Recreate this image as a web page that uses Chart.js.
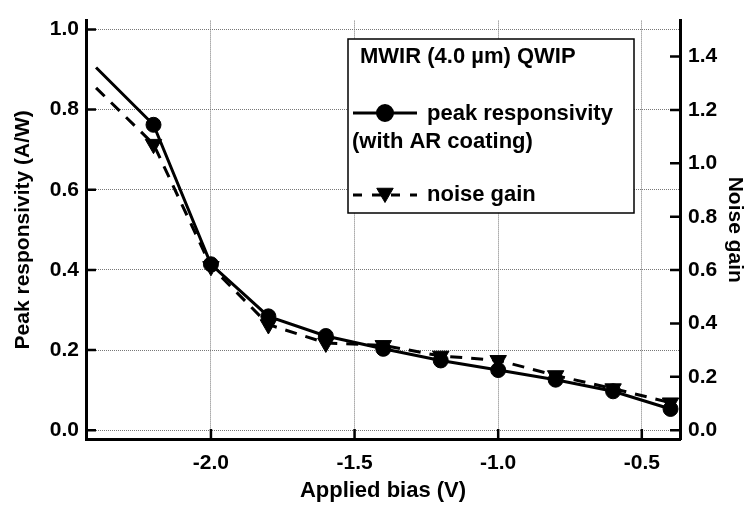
<!DOCTYPE html>
<html><head><meta charset="utf-8">
<script src="https://cdn.jsdelivr.net/npm/chart.js@4/dist/chart.umd.min.js"></script>
<style>html,body{margin:0;padding:0;background:#fff;} canvas{display:block;}</style>
</head><body>
<canvas id="c" width="750" height="505"></canvas>
<script>
// ---- data ----
const bias = [-2.4, -2.2, -2.0, -1.8, -1.6, -1.4, -1.2, -1.0, -0.8, -0.6, -0.4];
const responsivity = [0.905, 0.762, 0.414, 0.284, 0.235, 0.203, 0.174, 0.150, 0.126, 0.097, 0.053];
const noiseGain = [1.283, 1.072, 0.614, 0.396, 0.327, 0.318, 0.278, 0.262, 0.205, 0.156, 0.103];
const xTicks = [-2.0, -1.5, -1.0, -0.5];
const leftTicks = [0.0, 0.2, 0.4, 0.6, 0.8, 1.0];
const rightTicks = [0.0, 0.2, 0.4, 0.6, 0.8, 1.0, 1.2, 1.4];
const legendTitle = 'MWIR (4.0 µm) QWIP';
const seriesNames = ['peak responsivity', 'noise gain'];
const seriesNote = '(with AR coating)';
const xTitle = 'Applied bias (V)';
const yTitle = 'Peak responsivity (A/W)';
const y2Title = 'Noise gain';

const FONT = "'Liberation Sans', Arial, Helvetica, sans-serif";
Chart.defaults.font.family = FONT;
Chart.defaults.color = '#000';

const tickMarks = {
  id: 'tickMarks',
  afterDraw(chart) {
    const ctx = chart.ctx, a = chart.chartArea;
    const {x, y, y2} = chart.scales;
    ctx.save();
    ctx.strokeStyle = '#000';
    ctx.lineWidth = 2.5;
    ctx.beginPath();
    x.ticks.forEach(t => { const p = x.getPixelForValue(t.value); ctx.moveTo(p, a.bottom); ctx.lineTo(p, a.bottom - 10); });
    y.ticks.forEach(t => { const p = y.getPixelForValue(t.value); ctx.moveTo(a.left, p); ctx.lineTo(a.left + 10, p); });
    y2.ticks.forEach(t => { const p = y2.getPixelForValue(t.value); ctx.moveTo(a.right, p); ctx.lineTo(a.right - 10, p); });
    ctx.stroke();
    ctx.restore();
  }
};

const boxLegend = {
  id: 'boxLegend',
  afterDraw(chart) {
    const ctx = chart.ctx;
    ctx.save();
    ctx.fillStyle = '#fff';
    ctx.fillRect(348, 39, 286, 174);
    ctx.strokeStyle = '#000';
    ctx.lineWidth = 1.5;
    ctx.strokeRect(348, 39, 286, 174);
    ctx.fillStyle = '#000';
    ctx.font = 'bold 22px ' + FONT;
    ctx.textBaseline = 'alphabetic';
    ctx.textAlign = 'left';
    ctx.fillText(legendTitle, 360, 63);
    ctx.fillText(seriesNames[0], 427, 120);
    ctx.fillText(seriesNote, 352, 148);
    ctx.fillText(seriesNames[1], 427, 201);
    // solid sample
    ctx.lineWidth = 3;
    ctx.beginPath(); ctx.moveTo(353, 113); ctx.lineTo(417, 113); ctx.stroke();
    Chart.helpers.drawPoint(ctx, {pointStyle: 'circle', radius: 7.5, borderWidth: 1, rotation: 0}, 385, 113);
    // dashed sample
    ctx.setLineDash([9, 10]);
    ctx.beginPath(); ctx.moveTo(353, 195); ctx.lineTo(417, 195); ctx.stroke();
    ctx.setLineDash([]);
    ctx.lineWidth = 1;
    Chart.helpers.drawPoint(ctx, {pointStyle: 'triangle', radius: 9.5, borderWidth: 1, rotation: 180}, 385, 193);
    ctx.restore();
  }
};

new Chart(document.getElementById('c'), {
  type: 'line',
  data: {
    datasets: [
      {
        label: seriesNames[0],
        data: bias.map((b, i) => ({x: b, y: responsivity[i]})),
        yAxisID: 'y',
        borderColor: '#000', backgroundColor: '#000',
        borderWidth: 3,
        pointStyle: 'circle',
        pointRadius: c => c.dataIndex === 0 ? 0 : 7.5,
        pointBorderWidth: 1,
        pointBorderColor: '#000', pointBackgroundColor: '#000',
        tension: 0
      },
      {
        label: seriesNames[1],
        data: bias.map((b, i) => ({x: b, y: noiseGain[i]})),
        yAxisID: 'y2',
        borderColor: '#000', backgroundColor: '#000',
        borderWidth: 3,
        borderDash: [12, 9],
        pointStyle: 'triangle',
        pointRotation: 180,
        pointRadius: c => c.dataIndex === 0 ? 0 : 9.5,
        pointBorderWidth: 1,
        pointBorderColor: '#000', pointBackgroundColor: '#000',
        tension: 0
      }
    ]
  },
  options: {
    responsive: false,
    animation: false,
    layout: {padding: {top: 10, left: 0, right: 0, bottom: 0}},
    plugins: {legend: {display: false}, tooltip: {enabled: false}},
    scales: {
      x: {
        type: 'linear', position: 'bottom', min: -2.435, max: -0.367,
        afterBuildTicks: s => { s.ticks = xTicks.map(v => ({value: v})); },
        afterFit: s => { s.height = 66; },
        grid: {color: '#777', lineWidth: 1, drawTicks: false},
        border: {display: true, color: '#000', width: 3, dash: [1, 1]},
        ticks: {color: '#000', font: {size: 21, weight: 'bold'}, padding: 12, maxRotation: 0, autoSkip: false,
          callback: v => v.toFixed(1)},
        title: {display: true, text: xTitle, color: '#000', font: {size: 22, weight: 'bold'}, padding: {top: 0, bottom: 1}}
      },
      y: {
        type: 'linear', position: 'left', min: -0.022, max: 1.022,
        afterBuildTicks: s => { s.ticks = leftTicks.map(v => ({value: v})); },
        afterFit: s => { s.width = 86; },
        grid: {color: '#777', lineWidth: 1, drawTicks: false},
        border: {display: true, color: '#000', width: 3, dash: [1, 1]},
        ticks: {color: '#000', font: {size: 21, weight: 'bold'}, padding: 7, callback: v => v.toFixed(1)},
        title: {display: true, text: yTitle, color: '#000', font: {size: 21, weight: 'bold'}, padding: {top: 11, bottom: 0}}
      },
      y2: {
        type: 'linear', position: 'right', min: -0.033, max: 1.535,
        afterBuildTicks: s => { s.ticks = rightTicks.map(v => ({value: v})); },
        afterFit: s => { s.width = 70; },
        grid: {drawOnChartArea: false, drawTicks: false},
        border: {display: true, color: '#000', width: 3},
        ticks: {color: '#000', font: {size: 21, weight: 'bold'}, padding: 8, callback: v => v.toFixed(1)},
        title: {display: true, text: y2Title, color: '#000', font: {size: 21, weight: 'bold'}, padding: {top: 3, bottom: 0}}
      }
    }
  },
  plugins: [tickMarks, boxLegend]
});
</script>
</body></html>
